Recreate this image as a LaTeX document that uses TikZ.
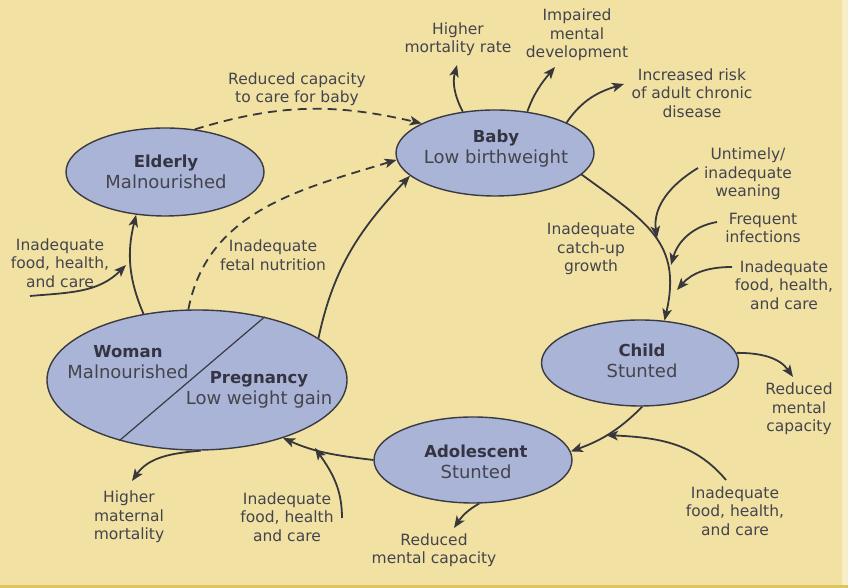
\documentclass[tikz,border=0pt]{standalone}
\usepackage{fontspec}
\setmainfont{DejaVu Sans}
\usetikzlibrary{shapes.geometric,arrows.meta}
\definecolor{bgcol}{RGB}{241,226,164}
\definecolor{ellfill}{RGB}{170,180,214}
\definecolor{edgecol}{RGB}{58,58,68}
\definecolor{linecol}{RGB}{55,55,60}
\definecolor{txtcol}{RGB}{68,68,76}
\definecolor{boldcol}{RGB}{52,52,66}
\definecolor{bottomcol}{RGB}{222,196,96}
\begin{document}
\begin{tikzpicture}[x=1pt,y=1pt,
  stage/.style={ellipse, draw=edgecol, line width=1.4pt, fill=ellfill, inner sep=0pt},
  stagetext/.style={align=center, font=\fontsize{18}{21}\selectfont, text=txtcol, inner sep=0pt},
  lbl/.style={align=center, font=\fontsize{15.5}{18.5}\selectfont, text=txtcol, inner sep=0pt},
  flow/.style={draw=linecol, line width=1.8pt, -{Stealth[length=12pt,width=9.5pt,inset=3pt]}},
  dflow/.style={flow, dash pattern=on 9pt off 6pt}]
\newcommand{\hdr}[1]{{\fontsize{16.5}{21}\selectfont\bfseries\color{boldcol}#1}}
\fill[bgcol] (0,0) rectangle (848,588);
\fill[bgcol!60!white] (842,0) rectangle (848,588);
\fill[bottomcol] (0,0) rectangle (848,3);
\useasboundingbox (0,0) rectangle (848,588);

% stages
\node[stage, minimum width=198pt, minimum height=88pt] (elderly) at (165,416) {};
\node[stage, minimum width=198pt, minimum height=86pt] (baby) at (495,435) {};
\node[stage, minimum width=197pt, minimum height=86pt] (child) at (640,225) {};
\node[stage, minimum width=198pt, minimum height=86pt] (adol) at (473,128) {};
\node[stage, minimum width=300pt, minimum height=140pt] (woman) at (197,208) {};
\draw[edgecol, line width=1.2pt] (woman.43.7) -- (woman.218);

\node[stagetext] (elderlyt) at (166,416) {\hdr{Elderly}\\Malnourished};
\node[stagetext] (babyt) at (496,439) {\hdr{Baby}\\Low birthweight};
\node[stagetext] (childt) at (642,227) {\hdr{Child}\\Stunted};
\node[stagetext] (adolt) at (476,126) {\hdr{Adolescent}\\Stunted};
\node[stagetext] (womant) at (128,226) {\hdr{Woman}\\Malnourished};
\node[stagetext] (pregt) at (259,198) {\hdr{Pregnancy}\\Low weight gain};

% labels
\node[lbl] (capcare) at (297,499) {Reduced capacity\\to care for baby};
\node[lbl] (fetal) at (273,333) {Inadequate\\fetal nutrition};
\node[lbl] (foodL) at (60,325) {Inadequate\\food, health,\\and care};
\node[lbl] (mort) at (458,549) {Higher\\mortality rate};
\node[lbl] (impaired) at (577,553) {Impaired\\mental\\development};
\node[lbl] (chronic) at (692,495) {Increased risk\\of adult chronic\\disease};
\node[lbl] (weaning) at (748,414) {Untimely/\\inadequate\\weaning};
\node[lbl] (infect) at (763,360) {Frequent\\infections};
\node[lbl] (foodB) at (784,303) {Inadequate\\food, health,\\and care};
\node[lbl] (catchup) at (591,339) {Inadequate\\catch-up\\growth};
\node[lbl] (redC) at (799,179) {Reduced\\mental\\capacity};
\node[lbl] (foodA) at (735,77) {Inadequate\\food, health,\\and care};
\node[lbl] (redA) at (434,38) {Reduced\\mental capacity};
\node[lbl] (maternal) at (129,71) {Higher\\maternal\\mortality};
\node[lbl] (foodP) at (287,71) {Inadequate\\food, health\\and care};

% free ends
\coordinate (mortT) at (457,523);
\coordinate (impT) at (555,521);
\coordinate (chrT) at (624,504);
\coordinate (weanS) at (698,420);
\coordinate (weanT) at (657,350);
\coordinate (infS) at (717,366);
\coordinate (infT) at (671,323);
\coordinate (foodBS) at (732,321);
\coordinate (foodBT) at (677,298);
\coordinate (foodLS) at (30,292);
\coordinate (foodLT) at (126,323);
\coordinate (redCT) at (793,211);
\coordinate (foodAS) at (726,108);
\coordinate (foodAT) at (606,153);
\coordinate (redAT) at (454,60);
\coordinate (foodPS) at (342,70);
\coordinate (foodPT) at (315,140);
\coordinate (matT) at (132,107);

% main cycle
\draw[dflow] (elderly.55) to[out=17,in=167] (baby.158);
\draw[dflow] (woman.97) to[out=79,in=197] (baby.184);
\draw[flow] (woman.19) to[out=78,in=227] (baby.195);
\draw[flow] (woman.129) to[out=113,in=256] (elderly.236);
\draw[flow] (baby.346) to[out=-36,in=77,distance=80pt] (child.60);
\draw[flow] (child.273) to[out=225,in=20] (adol.5);
\draw[flow] (adol.180) to[out=173,in=336] (woman.326);

% inputs
\draw[flow] (foodLS) to[out=5,in=225] (foodLT);
\draw[flow] (weanS) to[out=211,in=98] (weanT);
\draw[flow] (infS) to[out=190,in=74] (infT);
\draw[flow] (foodBS) to[out=180,in=49] (foodBT);
\draw[flow] (foodAS) to[out=130,in=-3] (foodAT);
\draw[flow] (foodPS) to[out=90,in=305] (foodPT);

% outputs
\draw[flow] (baby.128) to[out=117,in=255] (mortT);
\draw[flow] (baby.52) to[out=70,in=230] (impT);
\draw[flow] (baby.23) to[out=56,in=197] (chrT);
\draw[flow] (child.6) to[out=0,in=125] (redCT);
\draw[flow] (adol.278) to[out=209,in=56] (redAT);
\draw[flow] (woman.273) to[out=185,in=55] (matT);
\end{tikzpicture}
\end{document}
